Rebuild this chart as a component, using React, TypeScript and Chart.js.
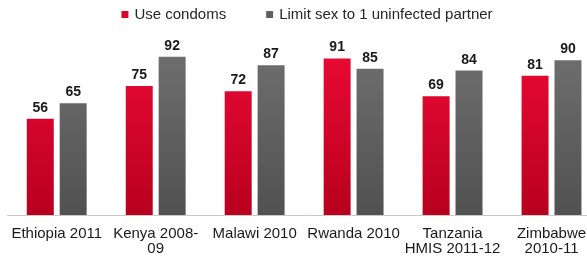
import React, { useEffect, useRef } from "react";
import { Chart, registerables } from "chart.js";

Chart.register(...registerables);

const categories: (string | string[])[] = [
  "Ethiopia 2011",
  ["Kenya 2008-", "09"],
  "Malawi 2010",
  "Rwanda 2010",
  ["Tanzania", "HMIS 2011-12"],
  ["Zimbabwe", "2010-11"],
];
const useCondoms = [56, 75, 72, 91, 69, 81];
const limitPartner = [65, 92, 87, 85, 84, 90];
const seriesNames = ["Use condoms", "Limit sex to 1 uninfected partner"];
const seriesColors = ["#dc0329", "#606060"];

const FONT = "Arial, 'Liberation Sans', Helvetica, sans-serif";

const valueLabels = {
  id: "valueLabels",
  afterDatasetsDraw(chart: any) {
    const { ctx } = chart;
    ctx.save();
    ctx.font = `bold 14px ${FONT}`;
    ctx.fillStyle = "#1a1a1a";
    ctx.textAlign = "center";
    ctx.textBaseline = "alphabetic";
    chart.data.datasets.forEach((ds: any, i: number) => {
      const meta = chart.getDatasetMeta(i);
      meta.data.forEach((bar: any, j: number) => {
        ctx.fillText(String(ds.data[j]), bar.x, bar.y - 7);
      });
    });
    ctx.restore();
  },
};

const topLegend = {
  id: "topLegend",
  afterDraw(chart: any) {
    const { ctx } = chart;
    ctx.save();
    ctx.font = `15px ${FONT}`;
    ctx.textBaseline = "middle";
    ctx.textAlign = "left";
    const box = 7;
    const gapText = 6;
    const gapItem = 40;
    const widths = seriesNames.map((n) => box + gapText + ctx.measureText(n).width);
    const total = widths.reduce((a, b) => a + b, 0) + gapItem * (widths.length - 1);
    let x = 307 - total / 2;
    const y = 14.5;
    seriesNames.forEach((n, i) => {
      ctx.fillStyle = seriesColors[i];
      ctx.fillRect(x, y - box / 2, box, box);
      ctx.fillStyle = "#262626";
      ctx.fillText(n, x + box + gapText, y);
      x += widths[i] + gapItem;
    });
    ctx.restore();
  },
};

function grad(top: string, bottom: string, solid: string) {
  return (c: any) => {
    const chart = c.chart;
    const area = chart.chartArea;
    if (!area) return solid;
    const g = chart.ctx.createLinearGradient(0, area.top, 0, area.bottom);
    g.addColorStop(0, top);
    g.addColorStop(1, bottom);
    return g;
  };
}

export default function App() {
  const ref = useRef<HTMLCanvasElement>(null);
  useEffect(() => {
    if (!ref.current) return;
    const chart = new Chart(ref.current, {
      type: "bar",
      data: {
        labels: categories,
        datasets: [
          {
            label: seriesNames[0],
            data: useCondoms,
            backgroundColor: grad("#ec0a35", "#b8001f", seriesColors[0]),
            categoryPercentage: 0.665,
            barPercentage: 0.82,
          },
          {
            label: seriesNames[1],
            data: limitPartner,
            backgroundColor: grad("#707070", "#515151", seriesColors[1]),
            categoryPercentage: 0.665,
            barPercentage: 0.82,
          },
        ],
      },
      options: {
        animation: false,
        responsive: true,
        maintainAspectRatio: false,
        layout: { padding: { left: 5, right: 0, top: 43, bottom: 4.5 } },
        plugins: {
          tooltip: { enabled: false },
          legend: { display: false },
        },
        scales: {
          x: {
            grid: { display: false, drawTicks: false },
            border: { display: true, color: "#c8c8c8", width: 1 },
            ticks: {
              color: "#1a1a1a",
              font: { family: FONT, size: 15, lineHeight: 1.0 },
              maxRotation: 0,
              autoSkip: false,
              padding: 11,
            },
            afterFit: (scale: any) => {
              scale.height = 40.5;
            },
          },
          y: {
            display: false,
            min: 0,
            max: 100,
          },
        },
      },
      plugins: [valueLabels, topLegend],
    });
    return () => chart.destroy();
  }, []);
  return (
    <div style={{ position: "absolute", left: 0, top: 0, width: 587, height: 260, overflow: "hidden" }}>
      <div style={{ position: "relative", width: 601, height: 260 }}>
        <canvas ref={ref} />
      </div>
    </div>
  );
}
